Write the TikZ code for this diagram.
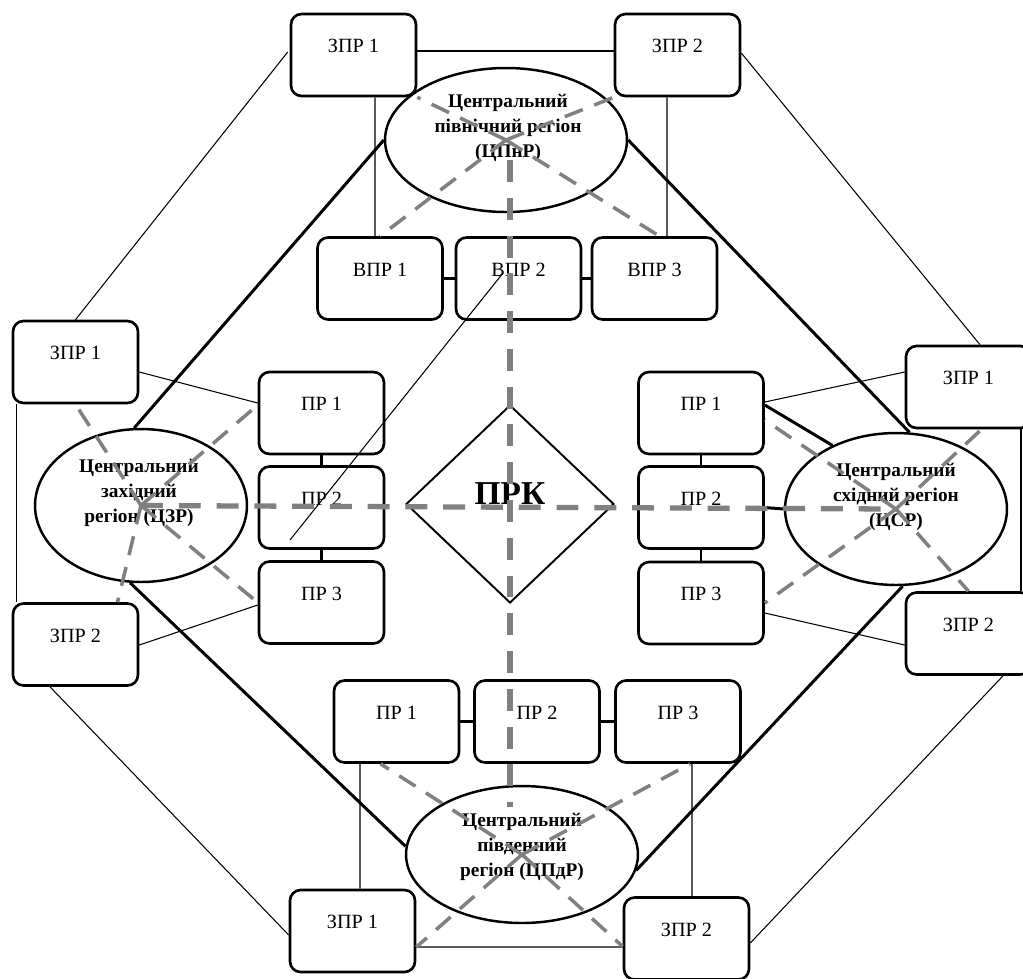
\documentclass[tikz,border=0pt]{standalone}
\usepackage{fontspec}
\setmainfont{Liberation Serif}
\usetikzlibrary{shapes.geometric,calc}
\definecolor{dashgray}{RGB}{128,128,128}
\begin{document}
\begin{tikzpicture}[x=0.02cm,y=-0.02cm,
  box/.style={draw,line width=1.5pt,rounded corners=6pt,minimum width=2.5cm,
    minimum height=1.64cm,inner sep=0pt,font=\fontsize{11.5}{14}\selectfont,
    text height=8pt,text depth=10.6pt},
  region/.style={draw,ellipse,line width=1.4pt,inner sep=0pt},
  regtext/.style={inner sep=0pt,align=center,
    font=\fontsize{11}{14.2}\bfseries\selectfont},
  hub/.style={draw,diamond,line width=1.1pt,inner sep=0pt,minimum width=4.16cm,
    minimum height=3.96cm,font=\fontsize{19}{22}\bfseries\selectfont,
    text height=13pt,text depth=13pt},
  thin/.style={line width=0.6pt},
  heavy/.style={line width=1.7pt},
  link/.style={line width=1.5pt},
  dashlink/.style={draw=dashgray,line width=2pt,dash pattern=on 11pt off 7pt},
  axis/.style={draw=dashgray,line width=3pt,dash pattern=on 12.5pt off 9pt}]
\useasboundingbox (0,0) rectangle (1023,978);
\clip (0,0) rectangle (1023,978);

% north group
\node[box] (zn1) at (353.5,55) {ЗПР 1};
\node[box] (zn2) at (677.5,55) {ЗПР 2};
\node[region,minimum width=4.84cm,minimum height=2.88cm] (nr) at (506,140) {};
\node[regtext] (nrt) at (508,128) {Центральний\\північний регіон\\(ЦПнР)};
\node[box] (vp1) at (380,278.5) {ВПР 1};
\node[box] (vp2) at (518.5,278.5) {ВПР 2};
\node[box] (vp3) at (654.5,278.5) {ВПР 3};

% west group
\node[box] (zw1) at (75.5,362) {ЗПР 1};
\node[box] (zw2) at (75.5,644.5) {ЗПР 2};
\node[region,minimum width=4.24cm,minimum height=3.06cm] (wr) at (141,505.5) {};
\node[regtext] (wrt) at (139,493) {Центральний\\західний\\регіон (ЦЗР)};
\node[box] (pw1) at (321.5,413) {ПР 1};
\node[box] (pw2) at (321.5,507.5) {ПР 2};
\node[box] (pw3) at (321.5,602.5) {ПР 3};

% east group
\node[box] (ze1) at (968.5,387) {ЗПР 1};
\node[box] (ze2) at (968.5,633.5) {ЗПР 2};
\node[region,minimum width=4.44cm,minimum height=3.04cm] (er) at (896,509) {};
\node[regtext] (ert) at (896,497) {Центральний\\східний регіон\\(ЦСР)};
\node[box] (pe1) at (701,413) {ПР 1};
\node[box] (pe2) at (701,507.5) {ПР 2};
\node[box] (pe3) at (701,603) {ПР 3};

% south group
\node[box] (ps1) at (396.5,721.5) {ПР 1};
\node[box] (ps2) at (537,721.5) {ПР 2};
\node[box] (ps3) at (678,721.5) {ПР 3};
\node[region,minimum width=4.64cm,minimum height=2.74cm] (sr) at (522,854.5) {};
\node[regtext] (srt) at (522,847) {Центральний\\південний\\регіон (ЦПдР)};
\node[box] (zs1) at (352.5,931) {ЗПР 1};
\node[box] (zs2) at (686.5,938.5) {ЗПР 2};

% centre
\node[hub] (prk) at (510,504) {ПРК};

% outer ring of thin links
\draw[thin] ($(zn1.west)+(-2,-3)$) -- (zw1.north);
\draw[thin] ($(zn2.east)+(0,-2)$) -- ($(ze1.north)+(11.5,0)$);
\draw[thin] ($(zw2.south)+(-25.5,0)$) -- ($(zs1.west)+(0,4)$);
\draw[thin] ($(ze2.south)+(34.5,0)$) -- ($(zs2.east)+(0,4.5)$);

% thin links inside each group
\draw[thin] ($(zn1.east)+(0,-4)$) -- ($(zn2.west)+(0,-4)$);
\draw[thin] ($(zn1.south)+(21.5,0)$) -- ($(vp1.north)+(-5,0)$);
\draw[thin] ($(zn2.south)+(-10.5,0)$) -- ($(vp3.north)+(12.5,0)$);
\draw[thin] ($(zw1.east)+(0,10)$) -- ($(pw1.west)+(0,-10)$);
\draw[thin] ($(zw2.east)+(0,0.5)$) -- ($(pw3.west)+(0,2.5)$);
\draw[thin] ($(zw1.south west)+(5,0)$) -- ($(zw2.north west)+(5,0)$);
\draw[thin] ($(pe1.east)+(0,-11)$) -- ($(ze1.west)+(0,-15)$);
\draw[thin] ($(pe3.east)+(0,10)$) -- ($(ze2.west)+(0,11.5)$);
\draw[thin] ($(ze1.south)+(52.5,0)$) -- ($(ze2.north)+(52.5,0)$);
\draw[thin] ($(ps1.south)+(-36.5,0)$) -- ($(zs1.north)+(7.5,0)$);
\draw[thin] ($(ps3.south)+(14,0)$) -- ($(zs2.north)+(5.5,0)$);
\draw[thin] ($(zs1.east)+(0,16)$) -- ($(zs2.west)+(0,8.5)$);
\draw[thin] ($(vp2.center)+(-15.5,-5.5)$) -- ($(pw2.center)+(-31.5,32.5)$);

% short links between neighbouring boxes
\draw[link] (vp1.east) -- (vp2.west);
\draw[link] (vp2.east) -- (vp3.west);
\draw[link] (pw1.south) -- (pw2.north);
\draw[link] (pw2.south) -- (pw3.north);
\draw[link] (pe1.south) -- (pe2.north);
\draw[link] (pe2.south) -- (pe3.north);
\draw[link] (ps1.east) -- (ps2.west);
\draw[link] (ps2.east) -- (ps3.west);

% heavy ring between the regions
\draw[heavy] (nr.west) -- (wr.95);
\draw[heavy] (nr.east) -- (er.80);
\draw[heavy] (wr.262) -- (sr.176);
\draw[heavy] (er.275) -- (sr.-8);
\draw[heavy] ($(pe1.east)+(0,-8)$) -- (er.135);
\draw[heavy] (pe2.east) -- (er.west);

% dashed links from each region
\draw[dashlink] (nr.center) -- (zn1.south east);
\draw[dashlink] (nr.center) -- (zn2.south west);
\draw[dashlink] (nr.center) -- (vp1.north);
\draw[dashlink] (nr.center) -- ($(vp3.north)+(5,0)$);
\draw[dashlink] (wr.center) -- (zw1.south);
\draw[dashlink] (wr.center) -- ($(zw2.north)+(42,0)$);
\draw[dashlink] (wr.center) -- ($(pw1.west)+(0,-8)$);
\draw[dashlink] (wr.center) -- (pw3.west);
\draw[dashlink] (er.center) -- ($(pe1.east)+(0,7)$);
\draw[dashlink] (er.center) -- ($(ze1.south)+(13,0)$);
\draw[dashlink] (er.center) -- (ze2.north);
\draw[dashlink] (er.center) -- (pe3.east);
\draw[dashlink] (sr.center) -- ($(ps1.south)+(-16,0)$);
\draw[dashlink] (sr.center) -- ($(ps3.south)+(12,0)$);
\draw[dashlink] (sr.center) -- ($(zs1.east)+(0,16)$);
\draw[dashlink] (sr.center) -- ($(zs2.west)+(0,8)$);

% main cross through the centre
\draw[axis] (wr.center) -- (er.center);
\coordinate (ntop) at (prk.north |- nr.center);
\coordinate (sbot) at ($(prk.south |- sr.north)+(0,22)$);
\draw[axis] ($(ntop)+(0,20)$) -- (sbot);
\end{tikzpicture}
\end{document}
